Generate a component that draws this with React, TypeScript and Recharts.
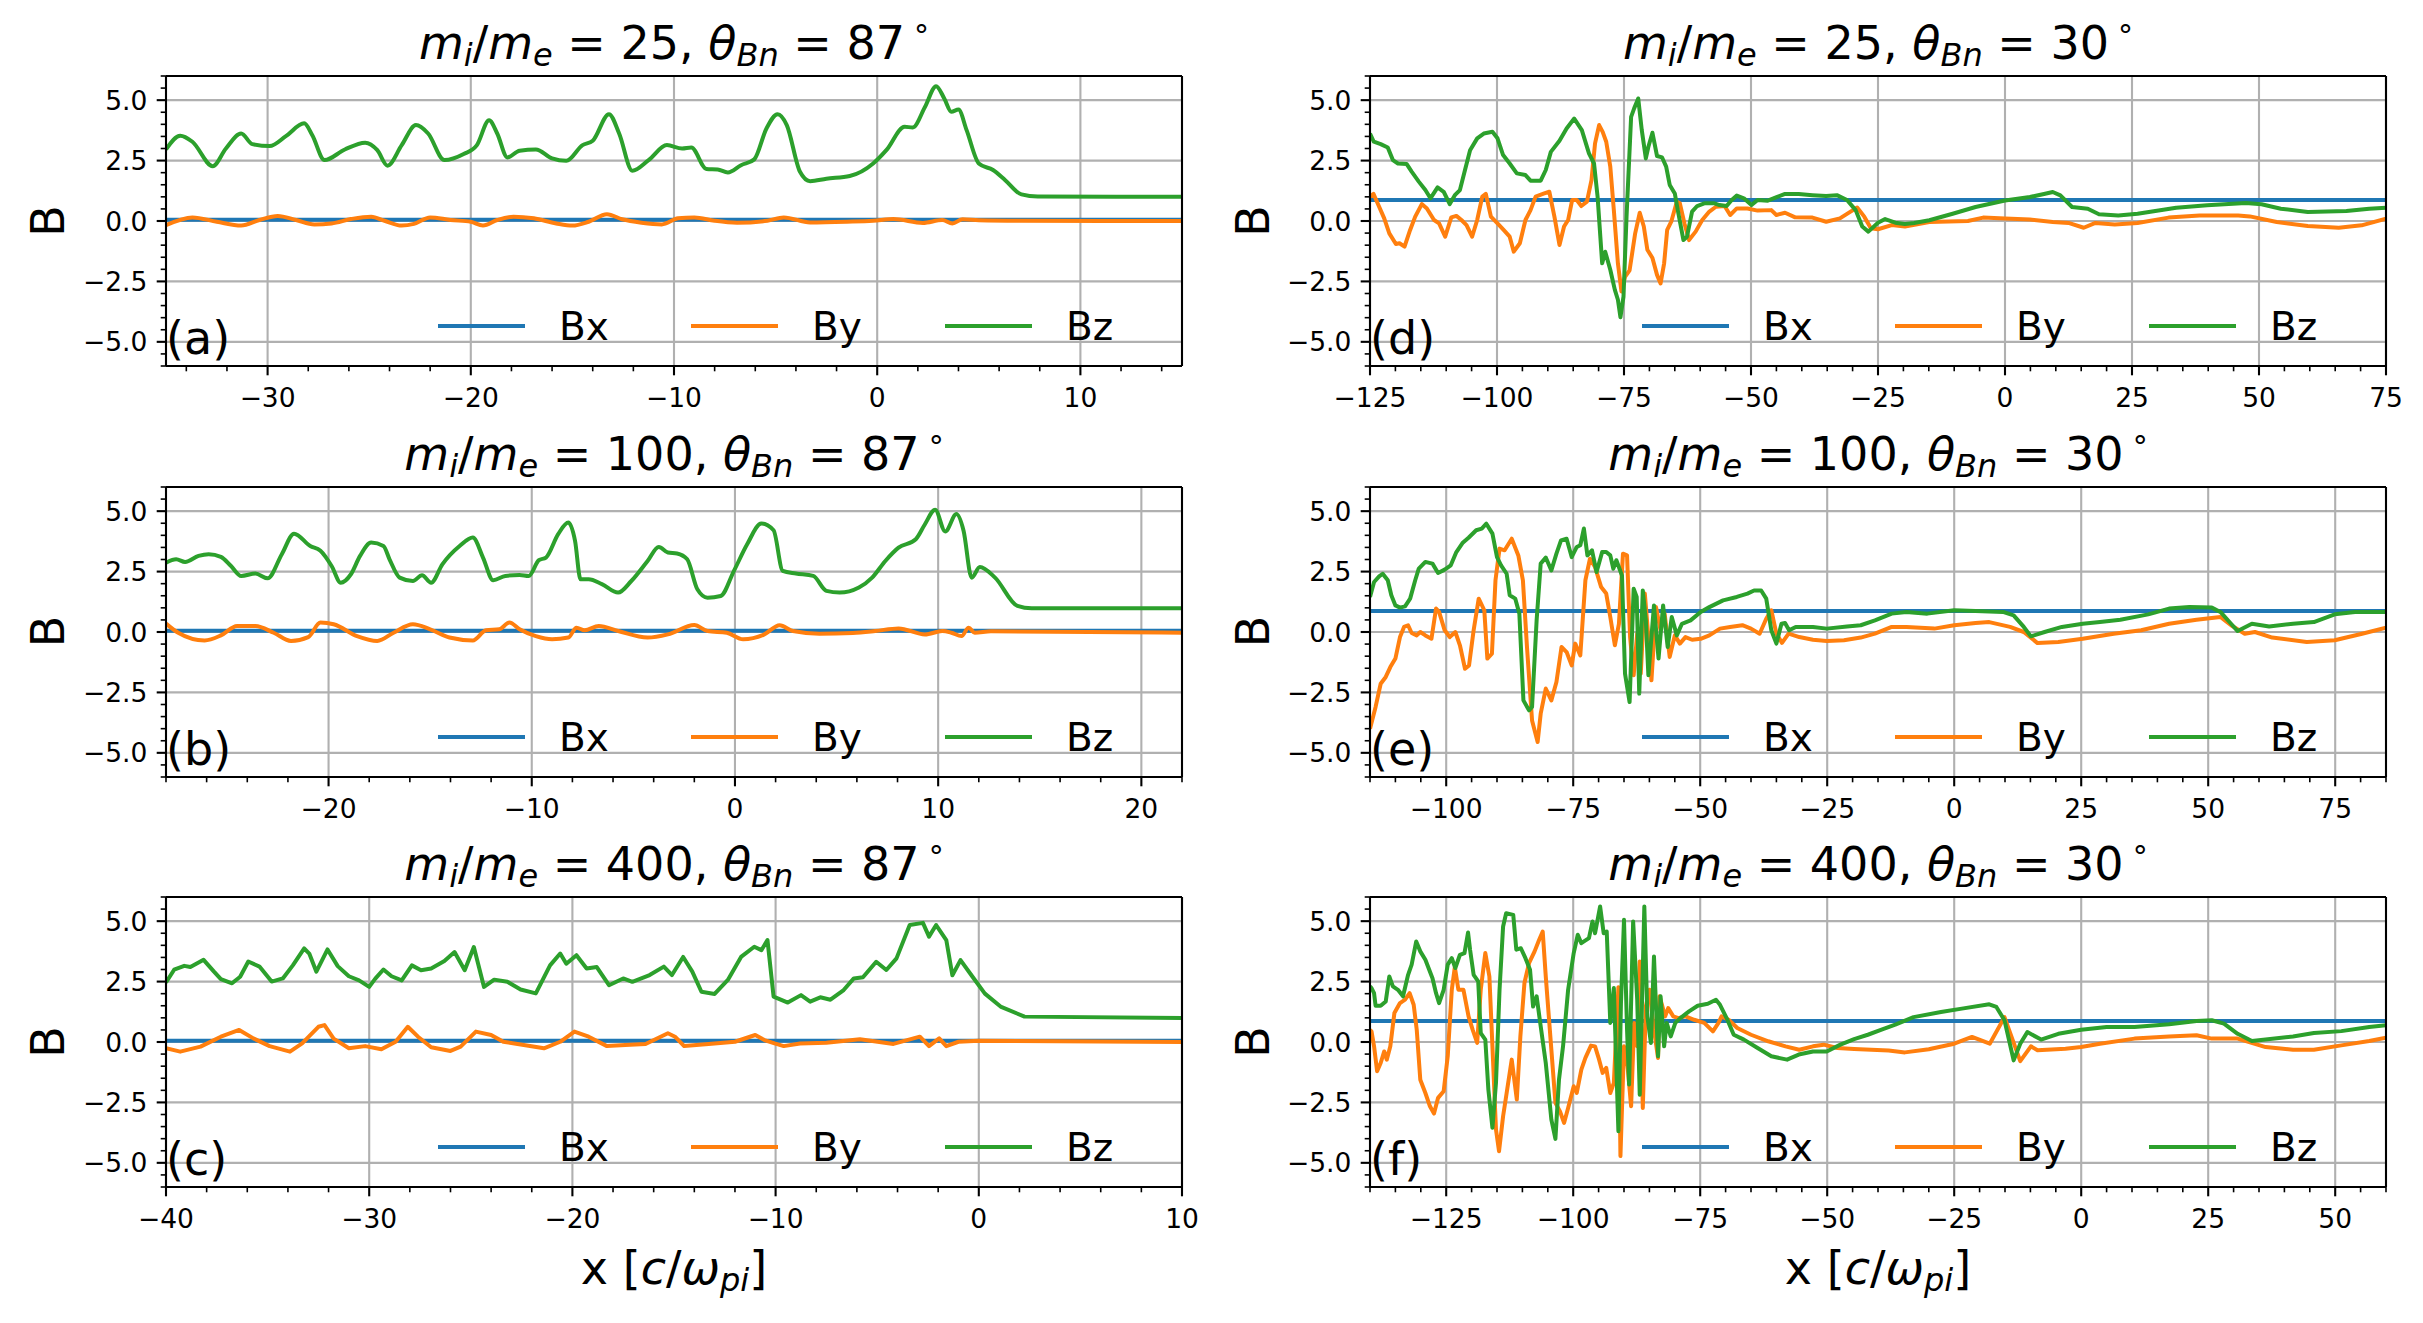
import React from "react";
import { LineChart, Line, XAxis, YAxis, CartesianGrid, ReferenceLine, Legend } from "recharts";

type Pt = [number, number];

// ---- data: [x, B] ----
const A_BY: Pt[] = [[-35,-0.17],[-33.7,0.15],[-32.5,-0.03],[-31.3,-0.19],[-30.4,0.04],[-29.5,0.21],[-28.6,0.04],[-27.7,-0.14],[-26.85,-0.1],[-25.9,0.08],[-24.9,0.18],[-24.25,0.01],[-23.4,-0.19],[-22.8,-0.12],[-22,0.15],[-21,0.04],[-20,-0.03],[-19.4,-0.19],[-18.7,0.04],[-17.9,0.18],[-16.9,0.11],[-15.8,-0.1],[-15,-0.19],[-14.2,-0.03],[-13.3,0.28],[-12.55,0.07],[-11.6,-0.07],[-10.6,-0.14],[-9.8,0.11],[-9,0.15],[-8,0.01],[-6.9,-0.07],[-5.4,0.01],[-4.6,0.15],[-3.3,-0.06],[-1.5,-0.03],[-0.2,0.01],[0.8,0.08],[2.25,-0.08],[3.2,0.04],[3.7,-0.1],[4.2,0.07],[5,0.03],[7,0.01],[15,0]];
const A_BZ: Pt[] = [[-35,2.96],[-34.3,3.53],[-33.7,3.28],[-32.7,2.27],[-32.05,3.0],[-31.3,3.62],[-30.75,3.18],[-29.9,3.1],[-29.1,3.51],[-28.2,4.04],[-27.8,3.55],[-27.2,2.52],[-26.2,2.96],[-25.2,3.24],[-24.6,2.93],[-24.1,2.29],[-23.4,3.14],[-22.7,3.97],[-22.1,3.62],[-21.3,2.52],[-20.35,2.77],[-19.7,3.14],[-19.1,4.17],[-18.7,3.62],[-18.2,2.63],[-17.6,2.91],[-16.8,2.96],[-16,2.59],[-15.3,2.49],[-14.5,3.14],[-14,3.32],[-13.2,4.42],[-12.7,3.62],[-12.05,2.08],[-11.25,2.52],[-10.35,3.14],[-9.6,3.0],[-9.15,3.04],[-8.4,2.15],[-7.85,2.13],[-7.35,2.01],[-6.7,2.31],[-6.05,2.55],[-5.45,3.83],[-4.9,4.42],[-4.45,3.97],[-3.8,2.04],[-3.3,1.65],[-2.5,1.75],[-1.35,1.86],[-0.2,2.38],[0.45,2.93],[1.35,3.9],[1.75,3.87],[2.35,4.72],[2.9,5.58],[3.3,5.07],[3.65,4.52],[4,4.61],[4.4,3.76],[5,2.38],[5.7,2.11],[6.3,1.69],[7.1,1.1],[7.9,1.01],[15,1.0]];

const B_BY: Pt[] = [[-28,0.35],[-27.4,-0.03],[-26.1,-0.35],[-25.3,-0.14],[-24.5,0.25],[-23.6,0.25],[-22.7,-0.03],[-21.85,-0.37],[-21,-0.21],[-20.4,0.39],[-19.75,0.32],[-18.6,-0.17],[-17.6,-0.37],[-16.8,-0.03],[-15.85,0.32],[-15,0.11],[-14.05,-0.23],[-12.9,-0.35],[-12.25,0.07],[-11.6,0.11],[-11.1,0.39],[-10.6,0.11],[-9.8,-0.17],[-9,-0.3],[-8.2,-0.23],[-7.8,0.18],[-7.4,0.07],[-6.7,0.25],[-5.75,0.04],[-4.3,-0.23],[-3.3,-0.1],[-2,0.29],[-1.35,0.04],[-0.4,-0.03],[0.4,-0.3],[1.4,-0.12],[2.2,0.28],[2.85,0.04],[4.15,-0.07],[5.8,-0.04],[6.9,0.04],[8.05,0.15],[9.35,-0.1],[10.2,0.04],[10.65,-0.03],[11.15,-0.17],[11.5,0.18],[11.8,-0.03],[12.6,0.03],[22,-0.03]];
const B_BZ: Pt[] = [[-28,2.87],[-27.5,3.01],[-27.06,2.9],[-26.4,3.15],[-25.9,3.22],[-25.3,3.11],[-24.8,2.73],[-24.3,2.32],[-23.6,2.42],[-23,2.22],[-22.3,3.22],[-21.7,4.07],[-20.9,3.56],[-20.4,3.36],[-19.85,2.73],[-19.4,2.04],[-18.9,2.39],[-18.45,3.15],[-17.9,3.7],[-17.3,3.56],[-17,3.01],[-16.5,2.25],[-15.85,2.11],[-15.4,2.35],[-14.95,2.04],[-14.4,2.8],[-13.55,3.56],[-12.9,3.91],[-12.4,3.08],[-11.9,2.14],[-11.3,2.32],[-10.6,2.36],[-10.15,2.32],[-9.65,2.97],[-9.3,3.08],[-8.7,4.05],[-8.2,4.53],[-7.87,3.77],[-7.6,2.18],[-7.2,2.18],[-6.55,1.98],[-5.75,1.63],[-5.1,2.11],[-4.3,2.94],[-3.75,3.52],[-3.3,3.29],[-2.85,3.25],[-2.35,3.01],[-1.85,1.77],[-1.35,1.42],[-0.7,1.49],[-0.05,2.53],[0.6,3.63],[1.3,4.49],[1.9,4.21],[2.35,2.53],[3,2.42],[3.85,2.32],[4.5,1.7],[5.15,1.63],[6.1,1.84],[6.75,2.25],[7.4,2.94],[8.05,3.49],[8.9,3.84],[9.35,4.46],[9.85,5.06],[10.35,4.16],[10.9,4.88],[11.25,4.19],[11.65,2.25],[12.05,2.69],[12.8,2.25],[13.9,1.08],[14.6,0.98],[22,0.98]];

const C_BY: Pt[] = [[-40,-0.26],[-39.3,-0.4],[-38.3,-0.19],[-37.3,0.22],[-36.4,0.5],[-35.7,0.15],[-34.9,-0.17],[-33.9,-0.4],[-33.3,-0.06],[-32.5,0.63],[-32.2,0.7],[-31.75,0.14],[-31,-0.26],[-30.2,-0.17],[-29.4,-0.3],[-28.7,0.01],[-28.1,0.63],[-27.6,0.22],[-26.95,-0.22],[-26,-0.37],[-25.5,-0.19],[-24.75,0.43],[-24,0.29],[-23.4,0.01],[-22.7,-0.08],[-21.4,-0.26],[-20.6,0.01],[-19.9,0.43],[-19.2,0.22],[-18.3,-0.17],[-17.4,-0.12],[-16.4,-0.08],[-15.3,0.36],[-14.95,0.22],[-14.5,-0.17],[-13.3,-0.08],[-12,0.01],[-11,0.29],[-10.55,0.08],[-10.05,-0.06],[-9.6,-0.17],[-8.8,-0.06],[-7.5,-0.03],[-5.85,0.11],[-4.2,-0.08],[-2.9,0.22],[-2.45,-0.17],[-1.95,0.15],[-1.6,-0.17],[-1,0.01],[0,0.05],[10,0]];
const C_BZ: Pt[] = [[-40,2.46],[-39.6,2.99],[-39.1,3.15],[-38.8,3.1],[-38.15,3.4],[-37.65,2.92],[-37.3,2.6],[-36.75,2.43],[-36.35,2.7],[-35.95,3.33],[-35.4,3.12],[-34.8,2.5],[-34.25,2.63],[-33.75,3.18],[-33.2,3.87],[-32.95,3.66],[-32.6,2.91],[-32.05,3.83],[-31.55,3.14],[-31,2.72],[-30.5,2.55],[-30,2.28],[-29.7,2.62],[-29.3,3.0],[-28.9,2.72],[-28.4,2.55],[-27.9,3.17],[-27.45,2.97],[-26.95,3.04],[-26.3,3.35],[-25.8,3.72],[-25.3,2.97],[-24.85,3.93],[-24.35,2.28],[-23.85,2.58],[-23.2,2.49],[-22.55,2.17],[-21.8,2.01],[-21.1,3.17],[-20.6,3.66],[-20.3,3.24],[-19.8,3.59],[-19.3,3.04],[-18.8,3.1],[-18.2,2.35],[-17.5,2.63],[-17.05,2.49],[-16.2,2.77],[-15.5,3.12],[-15.1,2.77],[-14.55,3.52],[-14.1,2.91],[-13.65,2.08],[-13,1.99],[-12.35,2.57],[-11.7,3.52],[-11.05,3.94],[-10.7,3.8],[-10.4,4.22],[-10.1,1.88],[-9.4,1.63],[-8.75,1.94],[-8.3,1.67],[-7.8,1.85],[-7.3,1.75],[-6.65,2.15],[-6.15,2.63],[-5.7,2.68],[-5.05,3.32],[-4.55,2.98],[-4.05,3.46],[-3.4,4.84],[-2.75,4.93],[-2.45,4.36],[-2.1,4.84],[-1.6,4.22],[-1.3,2.76],[-0.9,3.39],[-0.3,2.69],[0.3,2.0],[1.1,1.45],[2.25,1.05],[10,0.99]];

const D_BY: Pt[] = [[-125,1.01],[-124.3,1.12],[-123.2,0.59],[-122.2,0.11],[-121.2,-0.51],[-119.9,-0.95],[-119.2,-0.92],[-118.2,-1.06],[-117.1,-0.37],[-116.1,0.18],[-114.8,0.7],[-113.8,0.52],[-112.4,0.04],[-111.4,-0.1],[-110.2,-0.65],[-109,0.15],[-108,0.21],[-107,0.04],[-106,-0.17],[-104.9,-0.65],[-103.9,0.04],[-102.9,1.01],[-102.2,1.12],[-101.2,0.18],[-99.9,-0.1],[-98.7,-0.37],[-97.5,-0.65],[-96.7,-1.27],[-95.5,-0.92],[-94.4,0.04],[-93.4,0.45],[-92.4,1.01],[-90.7,1.14],[-89.7,1.21],[-88.7,0.18],[-87.7,-0.99],[-86.8,-0.23],[-86,0.04],[-85.2,0.87],[-84.3,0.87],[-83.4,0.62],[-82.3,0.8],[-81.4,1.69],[-80.7,3.21],[-79.9,3.97],[-79.2,3.69],[-78.5,3.28],[-77.7,2.25],[-77,0.45],[-76.2,-1.75],[-75.5,-2.92],[-74.8,-2.31],[-73.9,-2.04],[-72.8,-0.51],[-71.9,0.34],[-71.1,-0.23],[-70.4,-1.19],[-69.4,-1.53],[-68.5,-2.23],[-67.8,-2.58],[-67.1,-1.75],[-66.5,-0.37],[-65.7,-0.03],[-64.6,0.8],[-64,0.73],[-63.1,-0.1],[-62.2,-0.79],[-60.9,-0.44],[-59.6,0.04],[-58.2,0.39],[-56.9,0.59],[-55.2,0.62],[-54.1,0.25],[-52.8,0.52],[-50.7,0.52],[-48.7,0.43],[-46,0.45],[-45,0.25],[-43.3,0.34],[-41.3,0.15],[-37.9,0.14],[-35.2,-0.03],[-32.5,0.11],[-30.4,0.39],[-29.1,0.56],[-27.7,0.18],[-26.4,-0.3],[-25,-0.34],[-22.3,-0.17],[-19.7,-0.23],[-14.9,-0.04],[-7.3,0],[-4.3,0.14],[0,0.1],[4.9,0.06],[9.4,-0.04],[12.5,-0.08],[15.5,-0.28],[17.8,-0.08],[21.6,-0.14],[26.1,-0.08],[32.2,0.14],[38.3,0.23],[45.9,0.23],[48.2,0.19],[53.5,-0.04],[59.6,-0.21],[65.7,-0.28],[70.2,-0.18],[75,0.1]];
const D_BZ: Pt[] = [[-125,3.62],[-124.25,3.28],[-122.9,3.18],[-121.5,3.04],[-120.5,2.52],[-119.5,2.38],[-117.8,2.36],[-116.8,2.04],[-115.4,1.63],[-114.1,1.28],[-113.1,0.94],[-111.7,1.39],[-110.5,1.21],[-109.3,0.7],[-108.3,1.07],[-107.3,1.28],[-106.3,2.11],[-105.3,2.93],[-103.9,3.42],[-102.6,3.62],[-100.9,3.69],[-99.9,3.42],[-98.8,2.73],[-97.5,2.38],[-96.1,1.97],[-94.4,1.9],[-93.4,1.67],[-91.4,1.67],[-90.4,2.11],[-89.4,2.86],[-87.7,3.32],[-86.3,3.83],[-84.8,4.24],[-83.3,3.76],[-81.9,2.8],[-80.9,2.38],[-80.2,1.01],[-79.3,-1.75],[-78.7,-1.27],[-77.7,-2.02],[-76.8,-2.85],[-76.2,-3.26],[-75.7,-3.98],[-75.1,-3.13],[-74.5,0.18],[-73.6,4.31],[-73,4.66],[-72.2,5.07],[-71.5,3.76],[-70.7,2.59],[-70.2,3.07],[-69.4,3.65],[-68.5,2.69],[-67.5,2.63],[-66.7,2.25],[-66,1.49],[-65,1.14],[-64.3,0.32],[-63.3,-0.79],[-62.6,-0.65],[-61.6,0.39],[-60.6,0.62],[-59.2,0.73],[-57.2,0.73],[-56.2,0.66],[-54.8,0.62],[-53.8,0.87],[-52.8,1.05],[-51.4,0.94],[-49.9,0.66],[-48.7,0.87],[-46.7,0.84],[-44.7,1.01],[-43.3,1.12],[-40.6,1.12],[-37.9,1.07],[-35.2,1.03],[-33.1,1.07],[-31.1,0.87],[-29.4,0.45],[-28.1,-0.23],[-26.9,-0.44],[-25,-0.07],[-23.6,0.08],[-21.6,-0.07],[-19.7,-0.12],[-17.9,-0.08],[-14.9,0.03],[-10.3,0.3],[-5.8,0.58],[0,0.85],[4.9,0.99],[7.9,1.13],[9.4,1.2],[10.9,1.06],[13.2,0.58],[16.3,0.51],[18.5,0.28],[22.3,0.23],[26.1,0.3],[33.7,0.55],[39.8,0.65],[47.4,0.74],[50.5,0.69],[54.3,0.51],[59.6,0.37],[67.2,0.41],[71.7,0.51],[75,0.55]];

const E_BY: Pt[] = [[-115,-4.0],[-113.9,-3.1],[-112.9,-2.14],[-111.9,-1.86],[-111,-1.45],[-110,-1.1],[-109.1,-0.21],[-108.3,0.21],[-107.5,0.28],[-106.8,-0.04],[-105.8,-0.14],[-105.1,0],[-104.1,-0.14],[-102.9,-0.28],[-102,0.97],[-101.4,0.83],[-100.3,0.07],[-99.3,-0.21],[-98.2,0],[-97.3,-0.55],[-96.3,-1.52],[-95.5,-1.38],[-94.6,0.07],[-93.6,1.38],[-92.5,0.9],[-91.9,-1.1],[-91,-0.9],[-90.3,2.14],[-89.5,3.45],[-88.5,3.38],[-87.1,3.86],[-85.8,3.17],[-84.9,2.14],[-84.1,-0.62],[-83.1,-3.66],[-82,-4.55],[-81.4,-3.38],[-80.4,-2.34],[-79.3,-2.83],[-78.3,-2.07],[-77.3,-0.62],[-76.3,-0.83],[-75.3,-1.38],[-74.6,-0.48],[-73.6,-0.97],[-72.6,2.14],[-71.7,3.03],[-70.7,2.69],[-69.5,1.86],[-68.5,1.59],[-67.7,0.62],[-66.8,-0.55],[-66,0.34],[-65.2,3.24],[-64.4,3.17],[-63.8,-0.21],[-63.1,-1.79],[-62.4,-0.07],[-61.7,-1.72],[-60.9,1.59],[-60.2,-0.21],[-59.6,-2.0],[-58.7,1.03],[-57.8,0.07],[-57,0.76],[-56,-1.03],[-55,-0.14],[-54,-0.48],[-52.9,-0.21],[-51.6,-0.32],[-49.9,-0.28],[-48.2,-0.14],[-46.1,0.14],[-44.1,0.21],[-41.7,0.28],[-40,0.14],[-38.3,-0.07],[-37,0.55],[-36,0.9],[-35,-0.07],[-33.9,-0.45],[-32.6,-0.07],[-30.5,-0.21],[-27.8,-0.32],[-25.1,-0.37],[-21.7,-0.34],[-18.4,-0.23],[-15.6,-0.07],[-12.3,0.21],[-9.4,0.21],[-3.9,0.14],[0,0.28],[4.2,0.37],[6.9,0.41],[11,0.21],[13.7,0],[16.4,-0.46],[20.5,-0.41],[25.3,-0.28],[31.4,-0.07],[36.8,0.07],[42.3,0.34],[47.7,0.51],[52.4,0.62],[54.5,0.28],[57.2,-0.07],[59.2,0],[62.6,-0.23],[69.4,-0.41],[74.9,-0.34],[80.3,-0.07],[85,0.18]];
const E_BZ: Pt[] = [[-115,1.45],[-114.2,2.07],[-113.2,2.3],[-112.5,2.41],[-111.5,2.14],[-110.8,1.52],[-110,1.1],[-109.1,1.01],[-108.1,1.06],[-107.1,1.38],[-106.1,2.14],[-105.4,2.62],[-104.1,2.9],[-102.7,2.83],[-101.6,2.44],[-100.3,2.58],[-99.1,2.76],[-98,3.31],[-96.8,3.68],[-95.6,3.9],[-94.1,4.21],[-93,4.28],[-92.1,4.48],[-90.9,4.07],[-90,3.1],[-89.2,2.76],[-88.1,2.41],[-87.5,1.52],[-86.4,1.38],[-85.6,0.76],[-84.8,-2.83],[-83.7,-3.24],[-83.1,-3.1],[-82.2,0.48],[-81.4,2.83],[-80.4,3.08],[-79.3,2.55],[-78.3,3.24],[-77.4,3.79],[-76.3,3.86],[-75.3,3.1],[-74.3,3.52],[-73.6,3.59],[-72.9,4.28],[-72.2,3.17],[-71.3,3.38],[-70.4,2.48],[-69.3,3.31],[-68.5,3.31],[-67.7,3.17],[-67.1,2.62],[-66.5,2.97],[-65.4,2.34],[-64.8,-1.72],[-63.9,-2.9],[-63.1,1.79],[-62.5,1.45],[-62,-2.55],[-61.3,1.72],[-60.7,0.48],[-60.2,-1.79],[-59.1,1.1],[-58.2,-1.1],[-57.3,1.1],[-56.4,-0.62],[-55.6,0.62],[-54.6,-0.14],[-53.6,0.34],[-51.9,0.48],[-49.9,0.83],[-48.2,1.03],[-45.5,1.31],[-42.8,1.45],[-40.7,1.59],[-39.4,1.72],[-38,1.72],[-37,1.38],[-36,0.07],[-35,-0.48],[-34,0.34],[-33.3,0.37],[-32.5,0.07],[-31.2,0.21],[-27.8,0.21],[-25.1,0.14],[-21.1,0.23],[-18.4,0.28],[-15.6,0.48],[-12.3,0.76],[-9.4,0.83],[-5.3,0.76],[0,0.9],[4.2,0.87],[9.6,0.83],[11.7,0.69],[13.7,0.21],[15.1,-0.18],[17.8,0],[21.2,0.21],[25.3,0.34],[28.7,0.41],[32.7,0.51],[38.2,0.73],[42.3,0.97],[46.3,1.03],[50.7,1.01],[52.4,0.83],[54.5,0.34],[55.8,0.04],[58.6,0.34],[62,0.23],[66.7,0.34],[70.8,0.41],[74.9,0.73],[78.9,0.83],[85,0.83]];

const F_BY: Pt[] = [[-140,0.5],[-139.7,0.44],[-139.2,-0.18],[-138.6,-1.21],[-137.9,-0.87],[-137.2,-0.39],[-136.7,-0.73],[-136,-0.18],[-135.2,1.2],[-134.1,1.61],[-133.1,1.75],[-132.2,2.02],[-131.4,1.54],[-130.8,0.51],[-130.1,-1.56],[-129.1,-2.11],[-128.2,-2.66],[-127.4,-2.96],[-126.6,-2.31],[-125.5,-2.04],[-124.7,-0.59],[-123.9,2.16],[-123.3,3.1],[-122.6,2.16],[-121.6,2.16],[-120.6,1.06],[-119.8,0.51],[-118.9,-0.04],[-118.2,2.16],[-117.3,3.68],[-116.5,2.71],[-115.9,-0.18],[-115.2,-3.62],[-114.6,-4.52],[-113.8,-3.07],[-113.1,-2.11],[-112.1,-0.73],[-111.1,-2.38],[-110.4,0.23],[-109.6,2.44],[-108.7,3.26],[-107.6,3.75],[-106.7,4.23],[-106,4.57],[-105.4,2.71],[-104.3,-0.32],[-103.5,-2.52],[-102.6,-2.87],[-101.8,-3.35],[-101,-2.73],[-99.9,-1.83],[-99.3,-2.11],[-98.4,-1.14],[-97.6,-0.66],[-96.5,-0.15],[-95.7,-0.18],[-94.9,-0.73],[-94.2,-1.28],[-93.5,-1.07],[-92.7,-2.11],[-92,-1.69],[-91.1,2.27],[-90.7,-4.72],[-90,-0.18],[-89.3,-1.0],[-88.6,-2.66],[-88,0.79],[-87.4,-0.18],[-86.9,3.33],[-86.3,-2.73],[-85.7,1.47],[-85,2.16],[-84.1,0.51],[-83.3,-0.66],[-83,1.89],[-81.9,1.06],[-81.3,1.4],[-80.3,1.06],[-79.3,0.99],[-77.9,1.06],[-76.2,0.92],[-74.2,0.79],[-72.5,0.44],[-71.4,0.79],[-70.8,1.06],[-69.4,0.92],[-67.7,0.58],[-65,0.3],[-61.6,0.03],[-58.2,-0.18],[-55.5,-0.32],[-52.8,-0.18],[-50.7,-0.11],[-48,-0.25],[-44.7,-0.29],[-41.3,-0.32],[-37.9,-0.35],[-34.7,-0.43],[-30,-0.3],[-25,-0.07],[-21.5,0.21],[-18,-0.07],[-15.1,1.03],[-12,-0.79],[-9.9,-0.18],[-8.6,-0.34],[-3.1,-0.28],[0,-0.21],[3.7,-0.07],[10.5,0.14],[17.3,0.23],[22.7,0.28],[25.7,0.14],[30.8,0.14],[36.3,-0.21],[41.7,-0.32],[45.8,-0.32],[51.2,-0.14],[56.7,0.04],[60,0.18]];
const F_BZ: Pt[] = [[-140,2.3],[-139.7,2.23],[-139.2,2.02],[-138.9,1.5],[-137.9,1.5],[-136.9,1.68],[-136.2,2.71],[-135.5,2.3],[-134.5,2.16],[-133.5,1.89],[-132.5,2.78],[-131.8,3.2],[-130.9,4.16],[-130.1,3.75],[-129.1,3.4],[-127.7,2.64],[-127,2.02],[-126.4,1.61],[-125.5,2.16],[-124.7,3.2],[-123.9,3.47],[-123.2,3.06],[-122.3,3.61],[-121.4,3.68],[-120.7,4.53],[-120.3,3.82],[-119.6,2.78],[-118.7,2.51],[-118.2,0.37],[-117.3,0.1],[-116.7,-1.97],[-115.9,-3.55],[-115.2,-1.69],[-114.5,2.16],[-113.8,4.78],[-113.2,5.33],[-111.8,5.26],[-111.2,3.82],[-110.3,3.88],[-109.4,3.47],[-108.5,2.99],[-107.9,1.47],[-107.2,1.89],[-106.4,0.65],[-105.4,-0.87],[-104.3,-3.21],[-103.5,-4.01],[-102.8,-1.56],[-102,-0.18],[-101,2.16],[-99.9,3.68],[-99.1,4.44],[-98.4,4.09],[-96.9,4.3],[-96.2,4.99],[-95.7,4.5],[-94.7,5.61],[-94,4.5],[-93.4,4.57],[-92.7,0.79],[-92,2.23],[-91.1,-3.69],[-90.6,1.61],[-90,5.06],[-89.4,0.51],[-89,-1.76],[-88.2,4.99],[-87.4,1.75],[-86.9,-2.18],[-86,5.61],[-85.4,1.06],[-84.7,-0.04],[-84.1,3.54],[-83.3,-0.59],[-82.8,1.89],[-82.1,-0.18],[-81.6,0.79],[-80.8,0.23],[-79.9,0.79],[-78.9,0.99],[-77.2,1.27],[-75.5,1.5],[-73.5,1.58],[-71.9,1.75],[-71.1,1.54],[-69.8,0.99],[-68.4,0.3],[-66.4,0.1],[-63.7,-0.25],[-61,-0.59],[-57.9,-0.73],[-55.6,-0.52],[-52.8,-0.39],[-50.1,-0.39],[-47.4,-0.11],[-44.7,0.12],[-42,0.3],[-39.3,0.51],[-36.6,0.72],[-33,1.03],[-27.6,1.24],[-23.5,1.38],[-18.1,1.56],[-16.7,1.45],[-15.1,0.9],[-13.3,-0.76],[-12,-0.07],[-10.6,0.41],[-7.9,0.1],[-4.5,0.34],[0,0.51],[5,0.62],[10.5,0.62],[17.3,0.73],[22.7,0.87],[25.7,0.9],[28.1,0.76],[30.8,0.34],[33.6,0.04],[36.3,0.1],[41.7,0.23],[45.8,0.37],[51.2,0.45],[56.7,0.62],[60,0.69]];

// Bx is flat: cos(theta_Bn)
const BX_87 = 0.05;
const BX_30 = 0.866;

const Y_MAJOR = [-5, -2.5, 0, 2.5, 5];
const X_MAJOR_A = [-30, -20, -10, 0, 10];
const X_MAJOR_B = [-20, -10, 0, 10, 20];
const X_MAJOR_C = [-40, -30, -20, -10, 0, 10];
const X_MAJOR_D = [-125, -100, -75, -50, -25, 0, 25, 50, 75];
const X_MAJOR_E = [-100, -75, -50, -25, 0, 25, 50, 75];
const X_MAJOR_F = [-125, -100, -75, -50, -25, 0, 25, 50];

const SERIES = [
  { name: "Bx", color: "#1f77b4" },
  { name: "By", color: "#ff7f0e" },
  { name: "Bz", color: "#2ca02c" },
];

// ---- layout (px) ----
const FONT = "'DejaVu Sans', sans-serif";
const PLOT_W = 1016;
const PLOT_H = 290;
const COL_X = [166, 1370];
const ROW_Y = [76, 486.5, 897];
const Y_W = 120;
const X_H = 60;
const TOP_PAD = 4;
const RIGHT_PAD = 34;
const MAJOR_LEN = 9.3;
const MINOR_LEN = 5.3;
const PAD = 9.3;
const LW = 4;

const PANELS = [
  { tag: "a", ratio: "25", theta: "87", col: 0, row: 0, xMin: -35, xMax: 15, xMajor: X_MAJOR_A, minor: 2, bx: BX_87, by: A_BY, bz: A_BZ, curve: "monotone" },
  { tag: "b", ratio: "100", theta: "87", col: 0, row: 1, xMin: -28, xMax: 22, xMajor: X_MAJOR_B, minor: 2, bx: BX_87, by: B_BY, bz: B_BZ, curve: "monotone" },
  { tag: "c", ratio: "400", theta: "87", col: 0, row: 2, xMin: -40, xMax: 10, xMajor: X_MAJOR_C, minor: 2, bx: BX_87, by: C_BY, bz: C_BZ, curve: "linear" },
  { tag: "d", ratio: "25", theta: "30", col: 1, row: 0, xMin: -125, xMax: 75, xMajor: X_MAJOR_D, minor: 5, bx: BX_30, by: D_BY, bz: D_BZ, curve: "linear" },
  { tag: "e", ratio: "100", theta: "30", col: 1, row: 1, xMin: -115, xMax: 85, xMajor: X_MAJOR_E, minor: 5, bx: BX_30, by: E_BY, bz: E_BZ, curve: "linear" },
  { tag: "f", ratio: "400", theta: "30", col: 1, row: 2, xMin: -140, xMax: 60, xMajor: X_MAJOR_F, minor: 5, bx: BX_30, by: F_BY, bz: F_BZ, curve: "linear" },
];

const minus = (s: string) => s.replace("-", "\u2212");
const toRows = (pts: Pt[]) => pts.map(([x, v]) => ({ x, v }));

const steps = (lo: number, hi: number, step: number) => {
  const out: number[] = [];
  for (let v = Math.ceil(lo / step) * step; v <= hi + 1e-9; v += step) out.push(v);
  return out;
};
const Y_TICKS = steps(-6, 6, 0.5);

const makeXTick = (majors: number[]) => (props: any) => {
  const { x, y, payload } = props;
  const v = payload.value;
  const isMajor = majors.includes(v);
  const y0 = y - MAJOR_LEN - PAD;
  return (
    <g>
      <line x1={x} x2={x} y1={y0} y2={y0 + (isMajor ? MAJOR_LEN : MINOR_LEN)} stroke="#000" strokeWidth={isMajor ? 2.1 : 1.6} />
      {isMajor && (
        <text x={x} y={y0 + 41} textAnchor="middle" fontSize={26.5} fontFamily={FONT} fill="#000">
          {minus(String(v))}
        </text>
      )}
    </g>
  );
};

const YTick = (props: any) => {
  const { x, y, payload } = props;
  const v = payload.value;
  const isMajor = Y_MAJOR.includes(v);
  const ax = x + MAJOR_LEN + PAD;
  return (
    <g>
      <line x1={ax - (isMajor ? MAJOR_LEN : MINOR_LEN)} x2={ax} y1={y} y2={y} stroke="#000" strokeWidth={isMajor ? 2.1 : 1.6} />
      {isMajor && (
        <text x={ax - MAJOR_LEN - PAD} y={y + 9.6} textAnchor="end" fontSize={26.5} fontFamily={FONT} fill="#000">
          {minus(v.toFixed(1))}
        </text>
      )}
    </g>
  );
};

const LEGEND_OFF = [0, 253, 507];

const LegendBox = () => (
  <svg width={720} height={56} style={{ display: "block", overflow: "visible" }}>
    {SERIES.map((s, i) => (
      <g key={s.name}>
        <line x1={4 + LEGEND_OFF[i]} x2={4 + LEGEND_OFF[i] + 87} y1={28} y2={28} stroke={s.color} strokeWidth={LW} />
        <text x={4 + LEGEND_OFF[i] + 121} y={42} fontSize={39} fontFamily={FONT} fill="#000">
          {s.name}
        </text>
      </g>
    ))}
  </svg>
);

const Panel = ({ p }: { p: (typeof PANELS)[number] }) => {
  const left = COL_X[p.col];
  const top = ROW_Y[p.row];
  const bzRows = toRows(p.bz);
  const byRows = toRows(p.by);
  const bxRows = toRows([[p.xMin, p.bx], [p.xMax, p.bx]]);
  const xTicks = steps(p.xMin, p.xMax, p.minor);
  return (
    <div style={{ position: "absolute", left: left - Y_W, top: top - TOP_PAD }}>
      <LineChart
        width={Y_W + PLOT_W + RIGHT_PAD}
        height={TOP_PAD + PLOT_H + X_H}
        data={bzRows}
        margin={{ top: TOP_PAD, right: RIGHT_PAD, bottom: 0, left: 0 }}
      >
        <CartesianGrid
          stroke="#b0b0b0"
          strokeWidth={2.1}
          horizontalValues={Y_MAJOR}
          verticalValues={p.xMajor}
        />
        <XAxis
          dataKey="x"
          type="number"
          domain={[p.xMin, p.xMax]}
          allowDataOverflow
          ticks={xTicks}
          interval={0}
          height={X_H}
          tickSize={MAJOR_LEN}
          tickMargin={PAD}
          tickLine={false}
          axisLine={{ stroke: "#000", strokeWidth: 2.1 }}
          tick={makeXTick(p.xMajor)}
        />
        <YAxis
          type="number"
          domain={[-6, 6]}
          allowDataOverflow
          ticks={Y_TICKS}
          interval={0}
          width={Y_W}
          tickSize={MAJOR_LEN}
          tickMargin={PAD}
          tickLine={false}
          axisLine={{ stroke: "#000", strokeWidth: 2.1 }}
          tick={<YTick />}
        />
        <Line data={bxRows} dataKey="v" name="Bx" type="linear" stroke={SERIES[0].color} strokeWidth={LW} dot={false} activeDot={false} isAnimationActive={false} />
        <Line data={byRows} dataKey="v" name="By" type={p.curve as any} stroke={SERIES[1].color} strokeWidth={LW} strokeLinejoin="round" dot={false} activeDot={false} isAnimationActive={false} />
        <Line data={bzRows} dataKey="v" name="Bz" type={p.curve as any} stroke={SERIES[2].color} strokeWidth={LW} strokeLinejoin="round" dot={false} activeDot={false} isAnimationActive={false} />
        <ReferenceLine y={6} stroke="#000" strokeWidth={2.1} />
        <ReferenceLine x={p.xMax} stroke="#000" strokeWidth={2.1} />
        <Legend
          layout="horizontal"
          verticalAlign="middle"
          align="center"
          wrapperStyle={{ left: Y_W + 272 - 4, top: TOP_PAD + 250 - 28, width: 720, height: 56 }}
          content={() => <LegendBox />}
        />
      </LineChart>
    </div>
  );
};

const Title = ({ p }: { p: (typeof PANELS)[number] }) => {
  const cx = COL_X[p.col] + PLOT_W / 2;
  const y = ROW_Y[p.row] - 17;
  return (
    <text x={cx} y={y} textAnchor="middle" fontSize={46} fontFamily={FONT} fill="#000">
      <tspan fontStyle="italic">m</tspan>
      <tspan fontStyle="italic" fontSize={32} dy={7}>i</tspan>
      <tspan dy={-7}>/</tspan>
      <tspan fontStyle="italic">m</tspan>
      <tspan fontStyle="italic" fontSize={32} dy={7}>e</tspan>
      <tspan dy={-7}>{` = ${p.ratio}, `}</tspan>
      <tspan fontStyle="italic">θ</tspan>
      <tspan fontStyle="italic" fontSize={32} dy={7}>Bn</tspan>
      <tspan dy={-7}>{` = ${p.theta}`}</tspan>
      <tspan fontSize={30} dx={9} dy={-13}>°</tspan>
    </text>
  );
};

const App = () => {
  return (
    <div style={{ position: "absolute", left: 0, top: 0, width: 2423, height: 1323, background: "#fff", overflow: "hidden" }}>
      {PANELS.map((p) => (
        <Panel key={p.tag} p={p} />
      ))}
      <svg width={2423} height={1323} style={{ position: "absolute", left: 0, top: 0, pointerEvents: "none" }}>
        {PANELS.map((p) => (
          <Title key={"t" + p.tag} p={p} />
        ))}
        {PANELS.map((p) => {
          const bx = p.col === 0 ? 64 : 1269;
          const cy = ROW_Y[p.row] + PLOT_H / 2;
          return (
            <text key={"y" + p.tag} x={bx} y={cy} transform={`rotate(-90 ${bx} ${cy})`} textAnchor="middle" fontSize={46} fontFamily={FONT} fill="#000">
              B
            </text>
          );
        })}
        {PANELS.map((p) => (
          <text key={"l" + p.tag} x={COL_X[p.col]} y={ROW_Y[p.row] + PLOT_H - 12} fontSize={46} fontFamily={FONT} fill="#000">
            ({p.tag})
          </text>
        ))}
        {COL_X.map((lx, i) => (
          <text key={"x" + i} x={lx + PLOT_W / 2} y={1284} textAnchor="middle" fontSize={46} fontFamily={FONT} fill="#000">
            x [<tspan fontStyle="italic">c</tspan>/<tspan fontStyle="italic">ω</tspan>
            <tspan fontStyle="italic" fontSize={32} dy={7}>pi</tspan>
            <tspan dy={-7}>]</tspan>
          </text>
        ))}
      </svg>
    </div>
  );
};

export default App;
